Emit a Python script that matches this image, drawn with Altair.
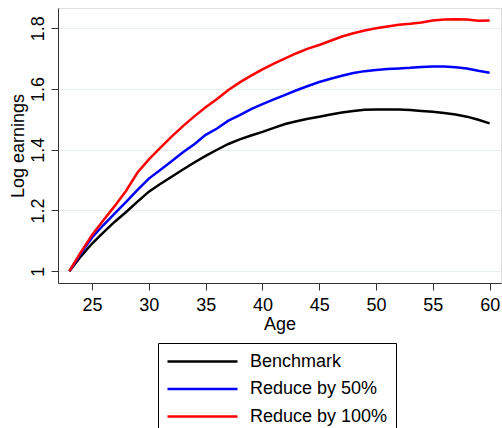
import altair as alt
import pandas as pd

ages = list(range(23, 61))
benchmark = [1.000, 1.048, 1.091, 1.128, 1.163, 1.195, 1.229, 1.262, 1.287, 1.311,
             1.335, 1.358, 1.380, 1.400, 1.419, 1.434, 1.447, 1.459, 1.472, 1.485,
             1.494, 1.502, 1.509, 1.516, 1.523, 1.528, 1.532, 1.533, 1.533, 1.533,
             1.531, 1.528, 1.525, 1.521, 1.516, 1.509, 1.499, 1.487]
reduce50 = [1.000, 1.058, 1.111, 1.152, 1.190, 1.228, 1.268, 1.305, 1.333, 1.362,
            1.392, 1.418, 1.449, 1.470, 1.496, 1.514, 1.534, 1.550, 1.566, 1.581,
            1.596, 1.610, 1.623, 1.634, 1.644, 1.653, 1.659, 1.663, 1.666, 1.668,
            1.670, 1.673, 1.674, 1.674, 1.672, 1.668, 1.660, 1.654]
reduce100 = [1.000, 1.062, 1.119, 1.168, 1.215, 1.265, 1.325, 1.368, 1.406, 1.443,
             1.478, 1.510, 1.540, 1.567, 1.597, 1.622, 1.644, 1.665, 1.684, 1.701,
             1.718, 1.733, 1.745, 1.759, 1.773, 1.784, 1.793, 1.800, 1.806, 1.812,
             1.815, 1.819, 1.826, 1.829, 1.830, 1.829, 1.825, 1.826]

series_names = ["Benchmark", "Reduce by 50%", "Reduce by 100%"]
series_colors = ["#000000", "#0000ff", "#ff0000"]
x_ticks = [25, 30, 35, 40, 45, 50, 55, 60]
y_ticks = [1.0, 1.2, 1.4, 1.6, 1.8]

rows = []
for name, vals in zip(series_names, [benchmark, reduce50, reduce100]):
    for a, v in zip(ages, vals):
        rows.append({"Age": a, "value": v, "series": name})
df = pd.DataFrame(rows)

FONT = "Liberation Sans"
FS = 18

chart = alt.Chart(df).mark_line(strokeWidth=2.5).encode(
    x=alt.X("Age:Q",
            scale=alt.Scale(domain=[22, 61], nice=False, zero=False),
            axis=alt.Axis(values=x_ticks, title="Age", grid=False,
                          tickSize=7, labelPadding=6, titlePadding=1,
                          domainColor="#333333", tickColor="#333333",
                          labelFont=FONT, labelFontSize=FS, labelColor="#000000",
                          titleFont=FONT, titleFontSize=FS, titleFontWeight="normal",
                          titleColor="#000000", labelFlush=False)),
    y=alt.Y("value:Q",
            scale=alt.Scale(domain=[0.961, 1.867], nice=False, zero=False),
            axis=alt.Axis(values=y_ticks, title="Log earnings", grid=True,
                          gridColor="#e6eef0", gridWidth=1,
                          tickSize=7, labelPadding=4, titlePadding=2,
                          labelAngle=270, labelAlign="center", labelBaseline="bottom",
                          labelExpr="datum.value == 1 ? '1' : format(datum.value, '.1f')",
                          domainColor="#333333", tickColor="#333333",
                          labelFont=FONT, labelFontSize=FS, labelColor="#000000",
                          titleFont=FONT, titleFontSize=FS, titleFontWeight="normal",
                          titleColor="#000000")),
    color=alt.Color("series:N",
                    scale=alt.Scale(domain=series_names, range=series_colors),
                    legend=alt.Legend(title=None, orient="none", legendX=100, legendY=335,
                                      direction="vertical",
                                      strokeColor="#000000", fillColor="#ffffff",
                                      padding=8, symbolType="M-3.889,0H3.889", symbolSize=324,
                                      symbolStrokeWidth=2.5, symbolOffset=26, labelOffset=37,
                                      labelFont=FONT, labelFontSize=FS, labelColor="#000000",
                                      rowPadding=7.5, labelLimit=300)),
).properties(
    width=443, height=275,
    autosize=alt.AutoSizeParams(type="none"),
    padding={"left": 58, "top": 8, "right": 1, "bottom": 145},
).configure_view(stroke=None).configure(background="#ffffff")

chart.save("out.html", embed_options={"renderer": "svg", "actions": False})
